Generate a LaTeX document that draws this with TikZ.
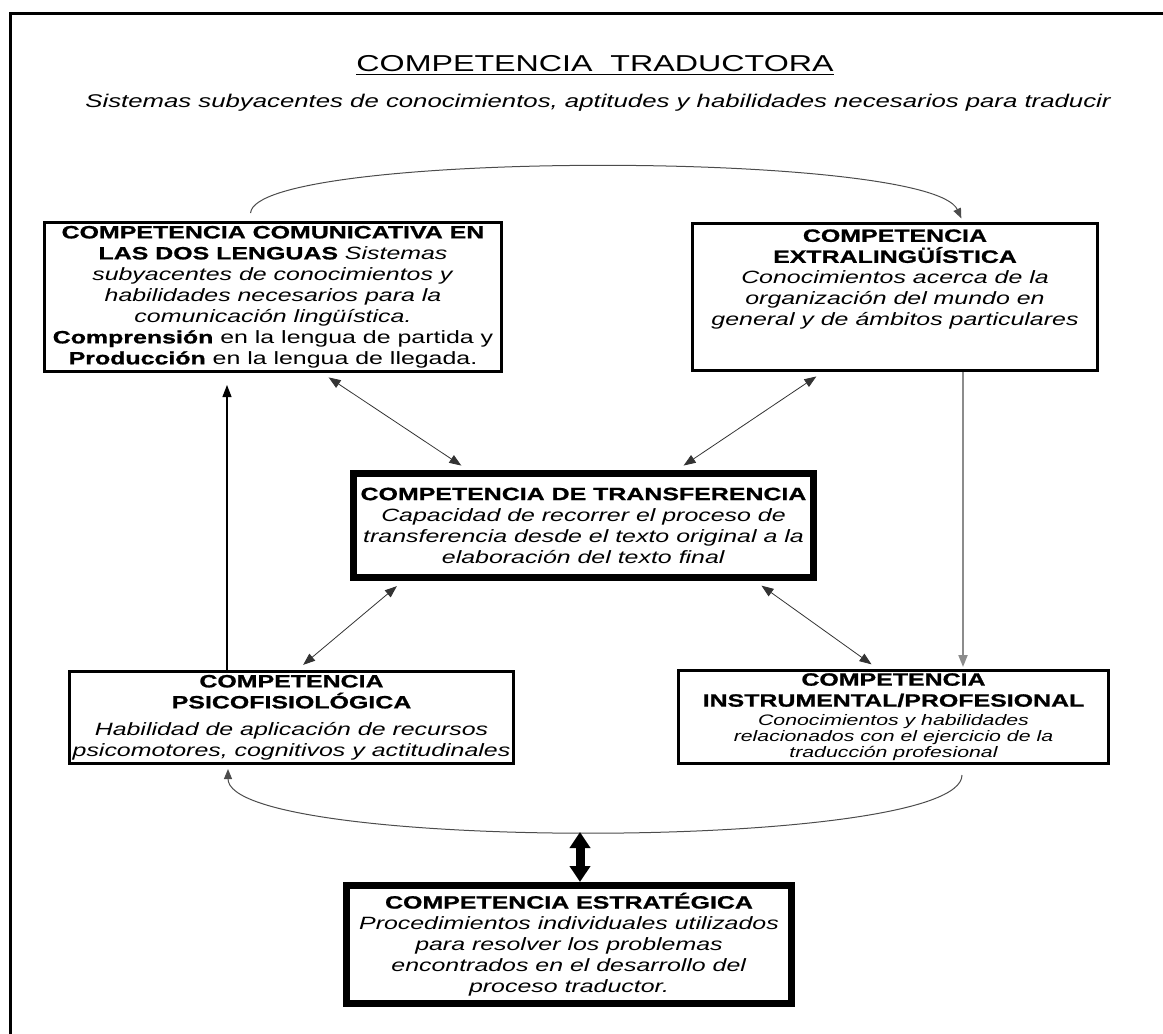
\documentclass[tikz,border=0pt]{standalone}
\usepackage{fontspec}
\setmainfont{Liberation Sans}[FakeStretch=1.4, BoldFeatures={FakeBold=1}]
\usetikzlibrary{arrows.meta}

\newcommand{\boxfont}{\fontsize{8.9}{10.5}\selectfont}
\newcommand{\smallboxfont}{\fontsize{7.6}{7.6}\selectfont}

\tikzset{
  compbox/.style={draw, line width=1.5pt, inner sep=0pt, align=center, font=\boxfont},
  heavybox/.style={compbox, line width=3.5pt},
  boxtext/.style={inner sep=0pt, align=center, font=\boxfont},
  thinlink/.style={{Triangle[length=6pt,width=4.5pt]}-{Triangle[length=6pt,width=4.5pt]},
    line width=0.4pt, draw=black!80, shorten <=4pt, shorten >=4pt},
  arclink/.style={-{Triangle[length=5pt,width=4pt]}, line width=0.5pt, draw=black!70},
  fatlink/.style={{Triangle[length=8pt,width=10pt]}-{Triangle[length=8pt,width=10pt]},
    line width=4.5pt},
}

\begin{document}
\begin{tikzpicture}[x=0.5pt, y=-0.5pt]
  \useasboundingbox (0,0) rectangle (1163,1034);
  \draw [line width=1.5pt] (10,1034) -- (10,13) -- (1163,13);

  \node [anchor=base, inner sep=0pt, font=\fontsize{11.5}{13}\selectfont] (title) at (595,71)
    {\underline{COMPETENCIA\ \ TRADUCTORA}};
  \node [anchor=base, inner sep=0pt, font=\fontsize{9.2}{11}\selectfont\itshape] (subtitle) at (598,107)
    {Sistemas subyacentes de conocimientos, aptitudes y habilidades necesarios para traducir};

  % boxes
  \node [compbox, minimum width=228.5pt, minimum height=74.5pt] (cc) at (273,297)
    {\textbf{COMPETENCIA COMUNICATIVA EN}\\
     \textbf{LAS DOS LENGUAS} \textit{Sistemas}\\
     \textit{subyacentes de conocimientos y}\\
     \textit{habilidades necesarios para la}\\
     \textit{comunicación lingüística.}\\
     \textbf{Comprensión} en la lengua de partida y\\
     \textbf{Producción} en la lengua de llegada.};
  \node [compbox, minimum width=202.5pt, minimum height=73.5pt] (ex) at (895,297) {};
  \node [boxtext, anchor=north] (extext) at (895,229)
    {\textbf{COMPETENCIA}\\
     \textbf{EXTRALINGÜÍSTICA}\\
     \textit{Conocimientos acerca de la}\\
     \textit{organización del mundo en}\\
     \textit{general y de ámbitos particulares}};
  \node [heavybox, minimum width=230pt, minimum height=52pt] (tr) at (583.5,525.5)
    {\textbf{COMPETENCIA DE TRANSFERENCIA}\\
     \textit{Capacidad de recorrer el proceso de}\\
     \textit{transferencia desde el texto original a la}\\
     \textit{elaboración del texto final}};
  \node [compbox, minimum width=222pt, minimum height=46pt] (ps) at (291.5,717.5)
    {\textbf{COMPETENCIA}\\
     \textbf{PSICOFISIOLÓGICA}\\[3pt]
     \textit{Habilidad de aplicación de recursos}\\
     \textit{psicomotores, cognitivos y actitudinales}};
  \node [compbox, minimum width=215pt, minimum height=46.5pt] (in) at (893.5,717)
    {\textbf{COMPETENCIA}\\
     \textbf{INSTRUMENTAL/PROFESIONAL}\\[-1pt]
     {\smallboxfont\itshape Conocimientos y habilidades}\\[-2.5pt]
     {\smallboxfont\itshape relacionados con el ejercicio de la}\\[-2.5pt]
     {\smallboxfont\itshape traducción profesional}};
  \node [heavybox, minimum width=222.5pt, minimum height=59pt] (es) at (569,944.5)
    {\textbf{COMPETENCIA ESTRATÉGICA}\\
     \textit{Procedimientos individuales utilizados}\\
     \textit{para resolver los problemas}\\
     \textit{encontrados en el desarrollo del}\\
     \textit{proceso traductor.}};

  % connectors
  \draw [arclink, shorten <=4pt, shorten >=2pt] (250,0 |- cc.north)
    .. controls (255,150) and (930,150) .. (963,0 |- ex.north);
  \draw [thinlink] (322,0 |- cc.south) -- (468,0 |- tr.north);
  \draw [thinlink] (823,0 |- ex.south) -- (677,0 |- tr.north);
  \draw [thinlink] (403,0 |- tr.south) -- (297,0 |- ps.north);
  \draw [thinlink] (755,0 |- tr.south) -- (878,0 |- in.north);
  \draw [-{Triangle[length=6pt,width=4.5pt]}, line width=0.6pt, shorten >=6pt]
    (227,0 |- ps.north) -- (227,0 |- cc.south);
  \draw [-{Triangle[length=6pt,width=4.5pt]}, line width=1pt, draw=black!45, shorten >=1pt]
    (963,0 |- ex.south) -- (963,0 |- in.north);
  \coordinate (arcbot) at (580,832);
  \draw [arclink, shorten <=5pt, shorten >=2pt] (962,0 |- in.south)
    .. controls (962,852) and (228,852) .. (228,0 |- ps.south);
  \draw [fatlink] (arcbot) -- (580,0 |- es.north);
\end{tikzpicture}
\end{document}
